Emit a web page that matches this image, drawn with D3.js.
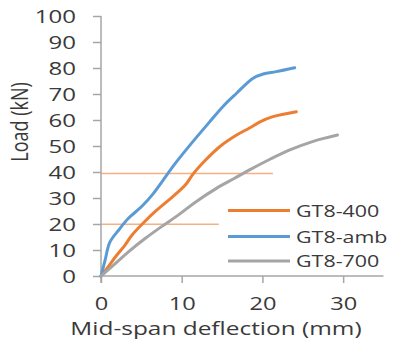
<!DOCTYPE html>
<html><head><meta charset="utf-8">
<script src="https://cdn.jsdelivr.net/npm/d3@7"></script>
<style>html,body{margin:0;padding:0;background:#fff}svg{display:block}text{font-family:"Open Sans",sans-serif;fill:#3a3a3a}</style>
</head><body>
<script>
const seriesNames = ["GT8-400", "GT8-amb", "GT8-700"];
const seriesColors = ["#ed7d31", "#5b9bd5", "#a5a5a5"];
const gt8_400 = [[0,0],[0.9,3.6],[1.8,7.4],[3,12],[3.8,15.6],[5.3,20.6],[6.9,25.3],[8.5,29.5],[9.9,33.3],[10.6,35.6],[11.4,39.2],[12.9,44.4],[14.7,49.7],[16.8,54.2],[18.4,56.9],[19.7,59.3],[21.3,61.3],[24.2,63.2]];
const gt8_amb = [[0,0],[0.5,6],[1.1,13],[2.2,17.7],[3.4,22.2],[5.1,26.9],[6.5,31.8],[7.7,36.9],[9.2,43.3],[11.2,51],[13.3,58.7],[15.2,65.5],[16.8,70.3],[18.8,76],[20.1,77.7],[21.7,78.6],[24,80.1]];
const gt8_700 = [[0,0],[1.8,4.9],[3.4,9.3],[5.5,14.5],[7.5,19],[9.6,23.5],[11.6,28.2],[14.3,33.7],[16.5,37.5],[18.4,40.8],[21,45],[23.4,48.5],[26.2,51.7],[29.3,54.2]];
const seriesData = [gt8_400, gt8_amb, gt8_700];
const refLines = [[39.4, 21.3], [19.9, 14.6]]; // [load, end deflection]
const xTicks = [0, 10, 20, 30];
const yTicks = [0, 10, 20, 30, 40, 50, 60, 70, 80, 90, 100];
const xTitle = "Mid-span deflection (mm)";
const yTitle = "Load (kN)";

const W = 398, H = 342, SX = 1.3;
const svg = d3.select("body").append("svg").attr("width", W).attr("height", H);
const x = d3.scaleLinear().domain([0, 35]).range([101, 383.5]);
const y = d3.scaleLinear().domain([0, 100]).range([276, 16]);
const axisColor = "#a6a6a6";

// reference lines
svg.selectAll(".ref").data(refLines).join("line")
  .attr("x1", x(0)).attr("x2", d => x(d[1]))
  .attr("y1", d => y(d[0])).attr("y2", d => y(d[0]))
  .attr("stroke", "#f4b183").attr("stroke-width", 1.4);

// y axis
const yAxis = svg.append("g").attr("transform", `translate(${x(0)},0)`)
  .call(d3.axisLeft(y).tickValues(yTicks).tickSize(8).tickPadding(0).tickFormat(d3.format("d")));
yAxis.select(".domain").attr("stroke", axisColor).attr("stroke-width", 1.5).attr("d", `M0,${y(0)+7}V${y(100)}`);
yAxis.selectAll(".tick line").attr("stroke", axisColor).attr("stroke-width", 1.5);
yAxis.selectAll(".tick text").attr("x", null).attr("dy", null)
  .attr("transform", `translate(-25,6.5) scale(${SX},1)`)
  .attr("text-anchor", "end").style("font-size", "18.5px").attr("fill", "#3a3a3a");

// x axis
const xAxis = svg.append("g").attr("transform", `translate(0,${y(0)})`)
  .call(d3.axisBottom(x).tickValues(xTicks).tickSize(7).tickPadding(0));
xAxis.select(".domain").attr("stroke", axisColor).attr("stroke-width", 1.5).attr("d", `M${x(0)},0H${x(35)}`);
xAxis.selectAll(".tick line").attr("stroke", axisColor).attr("stroke-width", 1.5);
xAxis.selectAll(".tick text").attr("y", null).attr("dy", null)
  .attr("transform", `translate(0,34) scale(${SX + 0.05},1)`)
  .attr("text-anchor", "middle").style("font-size", "17.5px").attr("fill", "#3a3a3a");

// lines
const line = d3.line().x(d => x(d[0])).y(d => y(d[1])).curve(d3.curveCatmullRom.alpha(0.5));
svg.selectAll(".series").data(seriesData).join("path")
  .attr("d", line).attr("fill", "none")
  .attr("stroke", (d, i) => seriesColors[i]).attr("stroke-width", 3)
  .attr("stroke-linejoin", "round").attr("stroke-linecap", "round");

// titles
svg.append("text").attr("transform", `translate(216,335) scale(1.32,1)`)
  .attr("text-anchor", "middle").style("font-size", "18.5px").text(xTitle);
svg.append("text").attr("transform", `translate(28,122) rotate(-90) scale(1,${SX})`)
  .attr("text-anchor", "middle").style("font-size", "18px").text(yTitle);

// legend
const lg = svg.append("g");
const ly = [210.5, 236.5, 261];
seriesNames.forEach((n, i) => {
  lg.append("line").attr("x1", 228).attr("x2", 290).attr("y1", ly[i]).attr("y2", ly[i])
    .attr("stroke", seriesColors[i]).attr("stroke-width", 3);
  lg.append("text").attr("transform", `translate(296,${ly[i] + 6}) scale(${SX},1)`)
    .style("font-size", "16.5px").text(n);
});
</script>
</body></html>
